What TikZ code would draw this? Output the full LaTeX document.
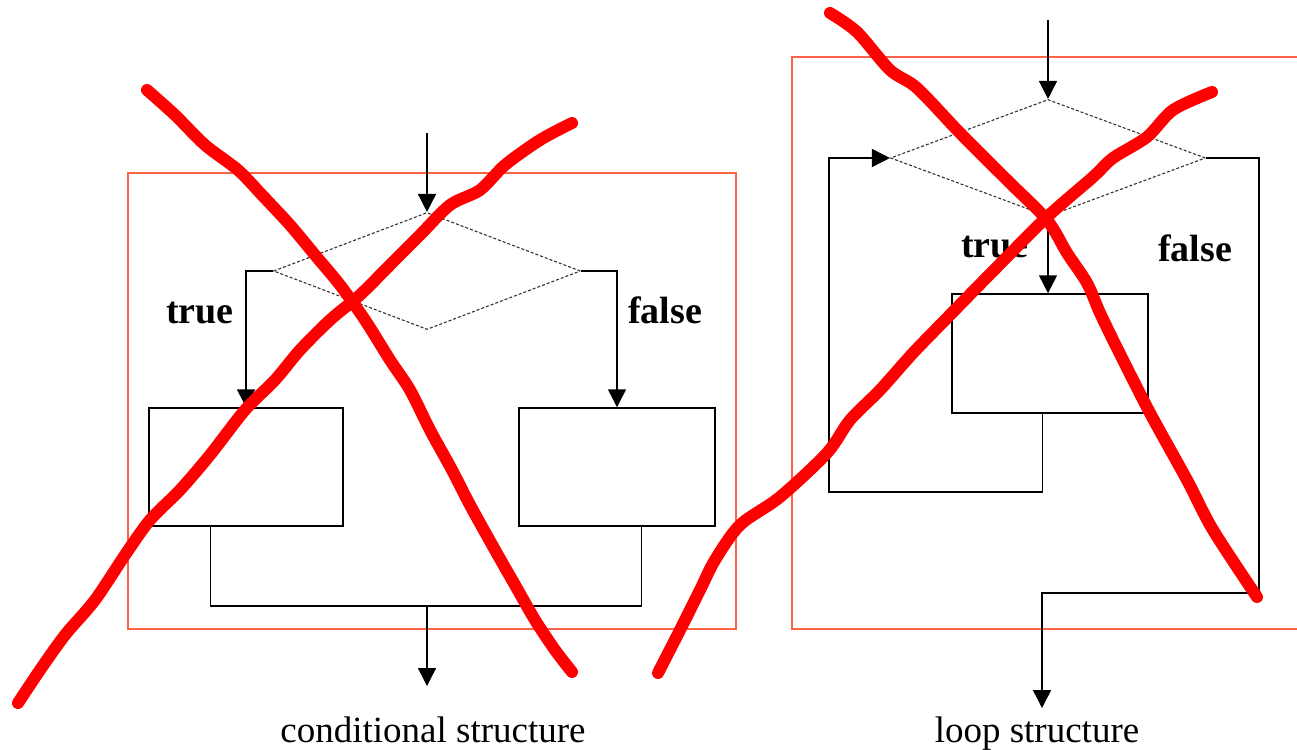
\documentclass[tikz,border=0pt]{standalone}
\usepackage{fontspec}
\setmainfont{Liberation Serif}
\usetikzlibrary{arrows.meta,shapes.geometric,calc}
\definecolor{framered}{RGB}{255,99,71}
\definecolor{crossred}{RGB}{255,0,0}
\begin{document}
\begin{tikzpicture}[x=1pt,y=-1pt,
  flow/.style={draw=black,line width=1.5pt},
  arr/.style={flow,-{Triangle[width=18pt,length=18pt]}},
  test/.style={diamond,draw=black!80,line width=1.1pt,dash pattern=on 3pt off 2pt,inner sep=0pt},
  block/.style={rectangle,draw=black,line width=1.5pt,inner sep=0pt},
  frame/.style={draw=framered,line width=1.6pt},
  tag/.style={font=\fontsize{38}{40}\selectfont\bfseries,anchor=base,inner sep=0pt},
  caption/.style={font=\fontsize{37}{40}\selectfont,anchor=base,inner sep=0pt},
  cross/.style={draw=crossred,line width=12pt,line join=round,line cap=round}]
\useasboundingbox (0,0) rectangle (1297,749);
\fill[white] (0,0) rectangle (1297,749);

% ---- frames round the two structures
\draw[frame] (128,173) rectangle (736,629);
\draw[frame] (1297,57) -- (792,57) -- (792,629) -- (1297,629);

% ---- conditional structure
\node[test,minimum width=307pt,minimum height=117pt,shape aspect=2.62] (ld) at (427,271) {};
\node[block,minimum width=194pt,minimum height=118pt] (lbox) at (246,467) {};
\node[block,minimum width=196pt,minimum height=118pt] (rbox) at (617,467) {};
\coordinate (lin) at (427,133);
\coordinate (lj) at ([xshift=62pt]lbox.south west);
\coordinate (rj) at ([xshift=123pt]rbox.south west);
\coordinate (lmerge) at (427,606);
\coordinate (lout) at (427,686);
\draw[arr] (lin) -- (ld.north);
\draw[arr] (ld.west) -| (lbox.north);
\draw[arr] (ld.east) -| (rbox.north);
\draw[flow] (lj) |- (lmerge) -| (rj);
\draw[arr] (lmerge) -- (lout);
\node[tag] (ltrue) at (200,323) {true};
\node[tag] (lfalse) at (665,323) {false};
\node[caption] (lcap) at (433,742) {conditional structure};

% ---- loop structure
\node[test,minimum width=315pt,minimum height=117pt,shape aspect=2.69] (rd) at (1048,158) {};
\node[block,minimum width=196pt,minimum height=119pt] (body) at (1050,353.5) {};
\coordinate (rin) at (1048,20);
\coordinate (bj) at ([xshift=91pt]body.south west);
\coordinate (back) at (829,492);
\coordinate (fc) at (1259,593);
\coordinate (rout) at (1042,708);
\draw[arr] (rin) -- (rd.north);
\draw[arr] (rd.south) -- (rd.south |- body.north);
\draw[arr] (bj) |- (back) |- (rd.west);
\draw[arr] (rd.east) -| (fc) -| (rout);
\node[tag] (rtrue) at (995,257) {true};
\node[tag] (rfalse) at (1195,261) {false};
\node[caption] (rcap) at (1037,742) {loop structure};

% ---- crossing-out strokes
\draw[cross] plot[smooth,tension=0.5] coordinates {(147,90) (175,115) (205,145) (238,170) (262,195) (290,225) (315,255) (340,285) (365,320) (390,360) (410,390) (430,430) (452,470) (470,505) (495,550) (515,585) (535,620) (555,650) (572,672)};
\draw[cross] plot[smooth,tension=0.5] coordinates {(18,703) (40,670) (65,635) (95,600) (125,555) (150,520) (180,490) (210,455) (245,410) (275,380) (300,350) (330,320) (360,295) (390,265) (420,235) (450,205) (480,190) (505,165) (540,140) (572,123)};
\draw[cross] plot[smooth,tension=0.5] coordinates {(830,13) (857,32) (890,70) (917,88) (960,133) (1007,180) (1047,220) (1067,253) (1087,283) (1100,313) (1118,350) (1150,413) (1187,480) (1213,530) (1257,597)};
\draw[cross] plot[smooth,tension=0.5] coordinates {(1212,92) (1173,110) (1147,137) (1113,158) (1093,177) (1047,217) (997,267) (947,318) (913,353) (880,390) (850,420) (827,453) (780,497) (740,525) (715,560) (700,590) (680,630) (658,673)};
\end{tikzpicture}
\end{document}
